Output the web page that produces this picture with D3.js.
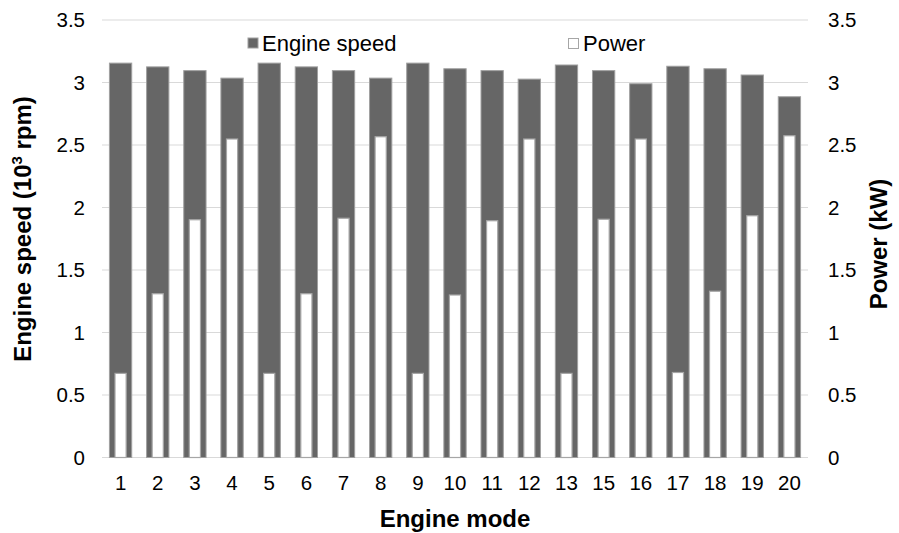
<!DOCTYPE html>
<html>
<head>
<meta charset="utf-8">
<script src="https://cdn.jsdelivr.net/npm/d3@7"></script>
<style>
    body { margin: 0; background: #fff; }
    svg text { font-family: "Liberation Sans", Arial, sans-serif; fill: #000; }
    .axis text { font-size: 20.5px; }
    .axis-title { font-size: 24px; font-weight: bold; }
    .legend text { font-size: 22px; }
</style>
</head>
<body>
<div id="chart"></div>
<script>
// engine modes (no mode 14 in the test)
const modes = ['1', '2', '3', '4', '5', '6', '7', '8', '9', '10', '11', '12', '13', '15', '16', '17', '18', '19', '20'];
// engine speed, 10^3 rpm
const engineSpeed = [3.155, 3.125, 3.095, 3.035, 3.155, 3.125, 3.095, 3.035, 3.155, 3.11, 3.095, 3.027, 3.14, 3.095, 2.99, 3.13, 3.11, 3.06, 2.886];
// power, kW
const power = [0.673, 1.31, 1.902, 2.548, 0.673, 1.31, 1.914, 2.566, 0.673, 1.30, 1.894, 2.548, 0.673, 1.906, 2.548, 0.68, 1.33, 1.934, 2.574];
const yTicks = [0, 0.5, 1, 1.5, 2, 2.5, 3, 3.5];

const width = 899, height = 533;
const margin = { top: 20, right: 91, bottom: 75.5, left: 102 };
const innerW = width - margin.left - margin.right;
const innerH = height - margin.top - margin.bottom;

const svg = d3.select('#chart').append('svg')
    .attr('width', width)
    .attr('height', height);

const chart = svg.append('g')
    .attr('transform', `translate(${margin.left},${margin.top})`);

const xScale = d3.scaleBand()
    .domain(modes)
    .range([0, innerW])
    .paddingInner(0.4)
    .paddingOuter(0.2);

const ySpeed = d3.scaleLinear().domain([0, 3.5]).range([innerH, 0]);
const yPower = d3.scaleLinear().domain([0, 3.5]).range([innerH, 0]);

// gridlines
chart.append('g')
    .selectAll('line')
    .data(yTicks)
    .join('line')
    .attr('x1', 0)
    .attr('x2', innerW)
    .attr('y1', d => ySpeed(d))
    .attr('y2', d => ySpeed(d))
    .attr('stroke', '#d9d9d9')
    .attr('stroke-width', 1);

// left axis
const yAxisLeft = d3.axisLeft(ySpeed)
    .tickValues(yTicks)
    .tickFormat(d3.format('~g'))
    .tickSize(0)
    .tickPadding(17);
chart.append('g')
    .attr('class', 'axis')
    .call(yAxisLeft)
    .call(g => g.select('.domain').remove());

// right axis
const yAxisRight = d3.axisRight(yPower)
    .tickValues(yTicks)
    .tickFormat(d3.format('~g'))
    .tickSize(0)
    .tickPadding(20);
chart.append('g')
    .attr('class', 'axis')
    .attr('transform', `translate(${innerW},0)`)
    .call(yAxisRight)
    .call(g => g.select('.domain').remove());

// x axis
const xAxis = d3.axisBottom(xScale).tickSize(0).tickPadding(18);
chart.append('g')
    .attr('class', 'axis')
    .attr('transform', `translate(0,${innerH})`)
    .call(xAxis)
    .call(g => g.select('.domain').remove());

// engine speed bars
const bw = xScale.bandwidth();
chart.append('g')
    .selectAll('rect')
    .data(modes)
    .join('rect')
    .attr('x', d => xScale(d))
    .attr('width', bw)
    .attr('y', (d, i) => ySpeed(engineSpeed[i]))
    .attr('height', (d, i) => innerH - ySpeed(engineSpeed[i]))
    .attr('fill', '#666666')
    .attr('stroke', '#a0a0a0')
    .attr('stroke-width', 1);

// power bars (narrower, on secondary axis)
const pw = bw * 0.5;
chart.append('g')
    .selectAll('rect')
    .data(modes)
    .join('rect')
    .attr('x', d => xScale(d) + (bw - pw) / 2)
    .attr('width', pw)
    .attr('y', (d, i) => yPower(power[i]))
    .attr('height', (d, i) => innerH - yPower(power[i]))
    .attr('fill', '#ffffff')
    .attr('stroke', '#a6a6a6')
    .attr('stroke-width', 1.2);

// axis titles
const leftTitle = svg.append('text')
    .attr('class', 'axis-title')
    .attr('text-anchor', 'middle')
    .attr('transform', `translate(31,229) rotate(-90)`);
leftTitle.append('tspan').text('Engine speed (10');
leftTitle.append('tspan').attr('font-size', '15px').attr('dy', '-9').text('3');
leftTitle.append('tspan').attr('dy', '9').text(' rpm)');

svg.append('text')
    .attr('class', 'axis-title')
    .attr('text-anchor', 'middle')
    .attr('transform', `translate(887,244) rotate(-90)`)
    .text('Power (kW)');

svg.append('text')
    .attr('class', 'axis-title')
    .attr('text-anchor', 'middle')
    .attr('x', 455)
    .attr('y', 527)
    .text('Engine mode');

// legend
const legend = svg.append('g').attr('class', 'legend');
legend.append('rect')
    .attr('x', 248).attr('y', 38).attr('width', 10).attr('height', 10)
    .attr('fill', '#666666').attr('stroke', '#a0a0a0');
legend.append('text').attr('x', 262).attr('y', 51).text('Engine speed');
legend.append('rect')
    .attr('x', 568.5).attr('y', 38.5).attr('width', 10).attr('height', 10)
    .attr('fill', '#ffffff').attr('stroke', '#a6a6a6');
legend.append('text').attr('x', 583).attr('y', 51).text('Power');
</script>
</body>
</html>
